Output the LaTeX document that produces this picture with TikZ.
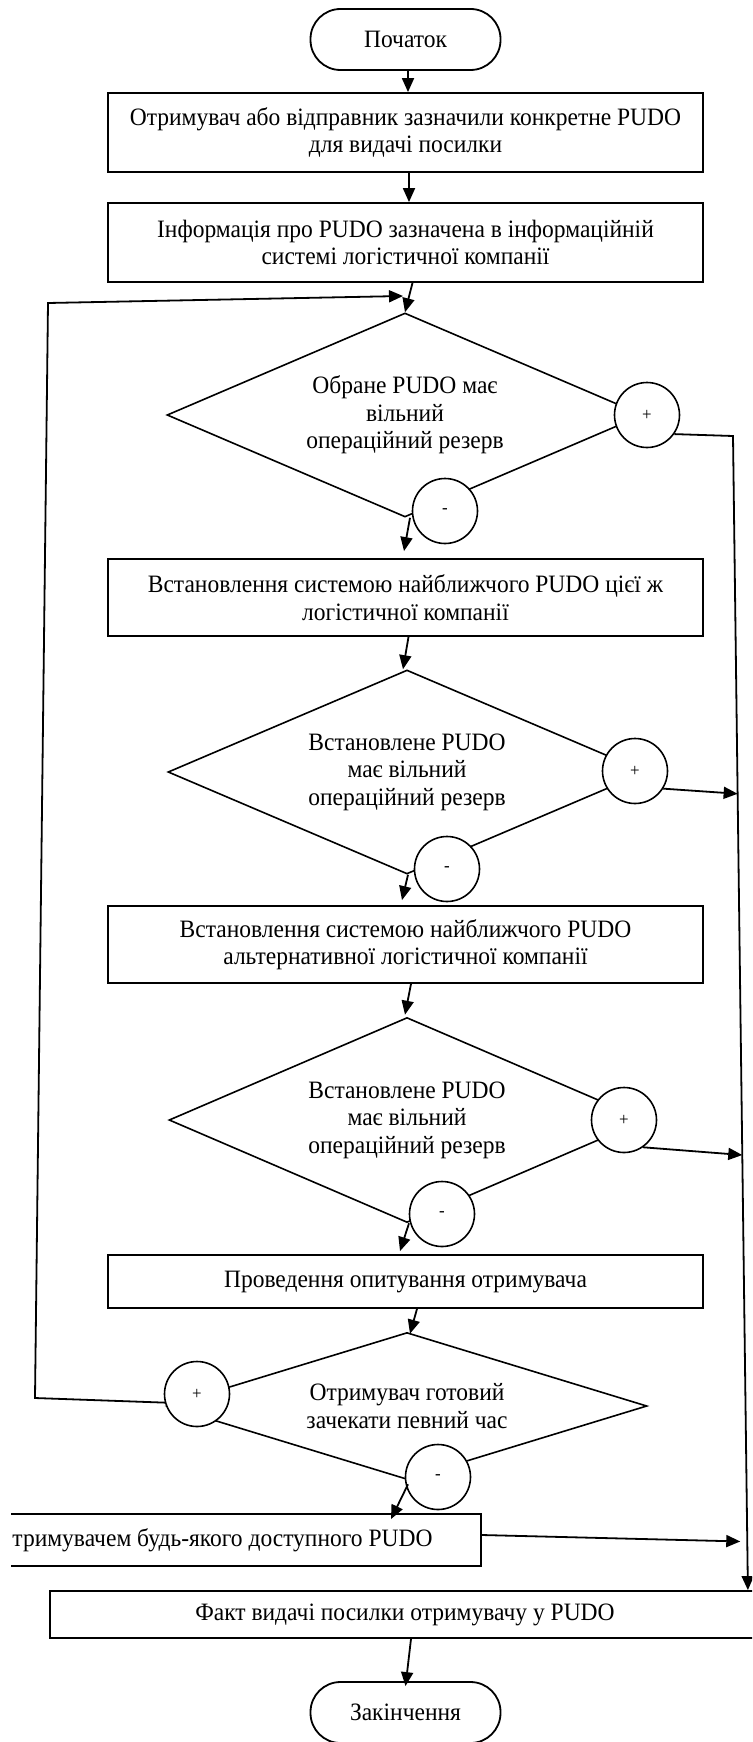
\documentclass[tikz,border=0pt]{standalone}
\usepackage{fontspec}
\setmainfont{Liberation Serif}[FakeStretch=0.94]
\usepackage{tikz}
\usetikzlibrary{calc, shapes.geometric, arrows.meta}
\tikzset{
    process/.style={rectangle, draw=black, line width=1.8pt, fill=white, align=center, minimum width=595pt, inner sep=0pt},
    term/.style={rectangle, rounded corners=30pt, draw=black, line width=1.8pt, fill=white, minimum width=190pt, minimum height=61pt},
    decision/.style={diamond, draw=black, line width=1.6pt, fill=white, align=center, inner sep=0pt},
    answer/.style={circle, draw=black, line width=1.6pt, fill=white, minimum size=65pt, inner sep=0pt, font=\fontsize{18}{18}\selectfont},
    arrow/.style={-{Triangle[length=14pt, width=12pt]}, line width=1.8pt}
}

\begin{document}
\begin{tikzpicture}[x=1pt, y=-1pt, font=\fontsize{25}{27.5}\selectfont]
        \useasboundingbox (0,0) rectangle (752,1742);
        \clip (11,0) rectangle (752,1742);

        % Start
        \node[term] (start) at (405.5,39.5) {Початок};

        % Chosen PUDO
        \node[process, minimum height=79pt] (box1) at (405.5,132.5) {Отримувач або відправник зазначили конкретне PUDO\\для видачі посилки};
        \node[process, minimum height=79pt] (box2) at (405.5,242.5) {Інформація про PUDO зазначена в інформаційній\\системі логістичної компанії};

        % First check
        \node[decision, aspect=2.33, minimum width=476pt, minimum height=204pt] (dia1) at (405,415) {Обране PUDO має\\вільний\\операційний резерв};
        \node[answer] (plus1) at (647,415) {+};
        \node[answer] (minus1) at (445,511) {-};

        % Same company
        \node[process, minimum height=77pt] (box3) at (405.5,597.5) {Встановлення системою найближчого PUDO цієї ж\\логістичної компанії};
        \node[decision, aspect=2.33, minimum width=478pt, minimum height=204pt] (dia2) at (407,772) {Встановлене PUDO\\має вільний\\операційний резерв};
        \node[answer] (plus2) at (635,771) {+};
        \node[answer] (minus2) at (447,869) {-};

        % Alternative company
        \node[process, minimum height=77pt] (box4) at (405.5,944.5) {Встановлення системою найближчого PUDO\\альтернативної логістичної компанії};
        \node[decision, aspect=2.33, minimum width=476pt, minimum height=205pt] (dia3) at (407,1120) {Встановлене PUDO\\має вільний\\операційний резерв};
        \node[answer] (plus3) at (624,1120) {+};
        \node[answer] (minus3) at (442,1214) {-};

        % Survey
        \node[process, minimum height=53pt] (box5) at (405.5,1281.5) {Проведення опитування отримувача};
        \node[decision, aspect=3.27, minimum width=480pt, minimum height=147pt] (dia4) at (407,1406) {Отримувач готовий\\зачекати певний час};
        \node[answer] (plus4) at (197,1394) {+};
        \node[answer] (minus4) at (438,1477) {-};

        % Any PUDO and issue
        \node[process, minimum width=517pt, minimum height=52pt] (box6) at (222.5,1540) {тримувачем будь-якого доступного PUDO};
        \node[process, minimum width=710pt, minimum height=47pt] (box7) at (405,1614.5) {Факт видачі посилки отримувачу у PUDO};
        \node[term] (end) at (405.5,1712.5) {Закінчення};

        % Side lines
        \coordinate (loopB) at (35,1398);
        \coordinate (loopT) at (48,303);
        \coordinate (loopE) at (403,296);
        \coordinate (rTop) at (733,436);
        \coordinate (rBot) at ([xshift=-13pt]box7.north east);

        % Arrows
        \draw[arrow] ([xshift=2.5pt]start.south) -- ([xshift=2.5pt]box1.north);
        \draw[arrow] ([xshift=3.5pt]box1.south) -- ([xshift=3.5pt]box2.north);
        \draw[arrow] ([xshift=7pt]box2.south) -- (dia1.north);
        \draw[arrow] ([xshift=5pt]dia1.south) -- ([xshift=-1.5pt, yshift=7pt]box3.north);
        \draw[arrow] ([xshift=3pt]box3.south) -- ([xshift=-4pt]dia2.north);
        \draw[arrow] ([xshift=1pt]dia2.south) -- ([xshift=-3.5pt, yshift=5pt]box4.north);
        \draw[arrow] ([xshift=5.5pt]box4.south) -- ([xshift=-2pt, yshift=2pt]dia3.north);
        \draw[arrow] ([xshift=2pt]dia3.south) -- ([xshift=-5.5pt, yshift=3pt]box5.north);
        \draw[arrow] ([xshift=11.5pt]box5.south) -- ([xshift=3pt, yshift=-2pt]dia4.north);
        \draw[arrow] ([xshift=1pt, yshift=-4pt]dia4.south) -- ($(dia4.south |- box6.north)+(-16,6)$);
        \draw[arrow] ([xshift=6pt]box7.south) -- ([yshift=-5pt]end.north);

        \draw[arrow] (plus4.195) -- (loopB) -- (loopT) -- (loopE);
        \draw[arrow] (plus1.-35) -- (rTop) -- (rBot);
        \draw[arrow] (plus2.-32) -- ($(rTop)!0.31!(rBot)$);
        \draw[arrow] (plus3.-55) -- ($(rTop)!0.623!(rBot)$);
        \draw[arrow, shorten >=7pt] ([yshift=5pt]box6.east) -- ($(rTop)!0.958!(rBot)$);
\end{tikzpicture}
\end{document}
